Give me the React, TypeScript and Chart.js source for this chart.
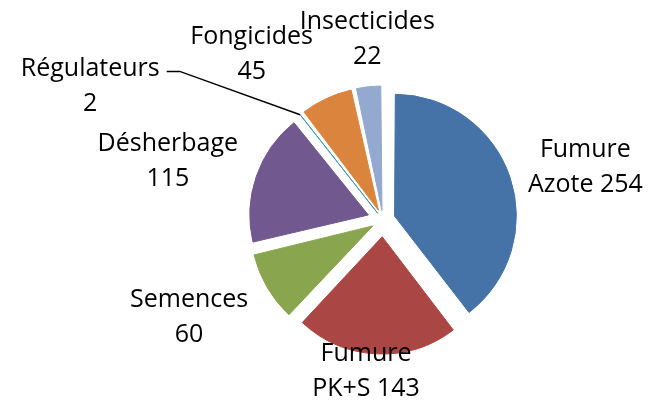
import React, { useEffect, useRef } from "react";
import { Chart, registerables } from "chart.js";

Chart.register(...registerables);

const categories = [
  "Fumure Azote",
  "Fumure PK+S",
  "Semences",
  "Désherbage",
  "Régulateurs",
  "Fongicides",
  "Insecticides",
];
const labelLines = [
  ["Fumure", "Azote 254"],
  ["Fumure", "PK+S 143"],
  ["Semences", "60"],
  ["Désherbage", "115"],
  ["Régulateurs", "2"],
  ["Fongicides", "45"],
  ["Insecticides", "22"],
];
const values = [254, 143, 60, 115, 2, 45, 22];
const colors = ["#4572A7", "#AA4643", "#89A54E", "#71588F", "#4198AF", "#DB843D", "#93A9CF"];

// label placement (layout): distance from pie centre and angular shift (deg)
const labelDist = [209, 152, 217, 223, 322, 211, 181];
const labelShift = [4.2, 3.6, 3.5, -3.7, -27.2, -13.5, 1.2];
const labelLeader = [false, false, false, false, true, false, false];

const EXPLODE = 17; // visual explode distance in px
const FONT = '25px "Open Sans"';
const LINE_H = 35;

// Chart.js translates an arc by offset/4 * (2 - sin(min(PI, circumference)));
// choose the offset so every slice moves by the same EXPLODE distance.
const offsetFor = (ctx: any) => {
  const el = ctx.element;
  let circ = el && el.circumference;
  if (!circ) {
    const total = values.reduce((s, v) => s + v, 0);
    circ = (values[ctx.dataIndex] / total) * Math.PI * 2;
  }
  const fix = 1 - Math.sin(Math.min(Math.PI, circ));
  return (EXPLODE * 4) / (1 + fix);
};

const labelPlugin = {
  id: "pieLabels",
  afterDraw(chart: any) {
    const ctx = chart.ctx;
    const meta = chart.getDatasetMeta(0);
    ctx.save();
    ctx.font = FONT;
    ctx.fillStyle = "#000";
    ctx.textAlign = "center";
    ctx.textBaseline = "middle";
    meta.data.forEach((arc: any, i: number) => {
      const p = arc.getProps(["x", "y", "startAngle", "endAngle", "outerRadius"], true);
      const mid = (p.startAngle + p.endAngle) / 2;
      const a = mid + (labelShift[i] * Math.PI) / 180;
      const cx = p.x + labelDist[i] * Math.cos(a);
      const cy = p.y + labelDist[i] * Math.sin(a);
      const lines = labelLines[i];
      const y0 = cy - ((lines.length - 1) * LINE_H) / 2;
      if (labelLeader[i]) {
        const ox = p.x + (EXPLODE + p.outerRadius) * Math.cos(mid);
        const oy = p.y + (EXPLODE + p.outerRadius) * Math.sin(mid);
        const w = ctx.measureText(lines[0]).width;
        const lx = cx + w / 2 + 7;
        const ly = y0 + 3;
        ctx.beginPath();
        ctx.strokeStyle = "#000";
        ctx.lineWidth = 1.5;
        ctx.moveTo(ox, oy);
        ctx.lineTo(lx + 13, ly);
        ctx.lineTo(lx, ly);
        ctx.stroke();
      }
      lines.forEach((t, j) => ctx.fillText(t, cx, y0 + j * LINE_H));
    });
    ctx.restore();
  },
};

export default function App() {
  const ref = useRef<HTMLCanvasElement | null>(null);
  useEffect(() => {
    if (!ref.current) return;
    const chart = new Chart(ref.current, {
      type: "pie",
      data: {
        labels: categories,
        datasets: [
          {
            data: values,
            backgroundColor: colors,
            borderColor: colors,
            borderWidth: 1,
            offset: offsetFor,
          } as any,
        ],
      },
      options: {
        animation: false,
        responsive: false,
        radius: 117,
        layout: { padding: { left: 118, right: 0, top: 40, bottom: 0 } },
        plugins: {
          legend: { display: false },
          tooltip: { enabled: false },
          title: { display: false },
        },
      } as any,
      plugins: [labelPlugin],
    });
    return () => chart.destroy();
  }, []);
  return (
    <div style={{ position: "fixed", left: 0, top: 0, width: 648, height: 400, background: "#fff" }}>
      <canvas ref={ref} width={648} height={400} style={{ width: 648, height: 400 }} />
    </div>
  );
}
